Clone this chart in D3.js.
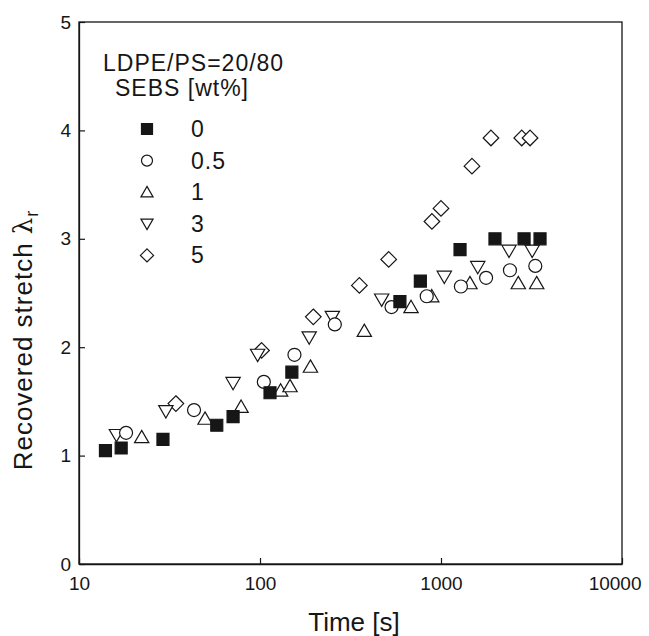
<!DOCTYPE html>
<html><head><meta charset="utf-8">
<script src="https://cdn.jsdelivr.net/npm/d3@7"></script>
<style>body{margin:0;background:#fff;} svg{display:block;}</style>
</head><body>
<svg id="chart" width="649" height="636"></svg>
<script>
const legendTitle = ["LDPE/PS=20/80", "SEBS [wt%]"];
const seriesNames = ["0", "0.5", "1", "3", "5"];
const seriesSymbols = ["square", "circle", "triangle", "triangleDown", "diamond"];
const xTicks = [10, 100, 1000, 10000];
const yTicks = [0, 1, 2, 3, 4, 5];

const s0 = [[14.0,1.045],[17.1,1.07],[29.1,1.15],[57.7,1.28],[71,1.36],[113.6,1.58],[150,1.77],[593,2.42],[769,2.61],[1274,2.90],[1987,3.00],[2877,3.00],[3525,3.00]];
const s05 = [[18.2,1.21],[43.2,1.42],[105,1.68],[155,1.93],[259,2.21],[533,2.37],[834,2.47],[1288,2.56],[1775,2.64],[2404,2.71],[3319,2.75]];
const s1 = [[22.2,1.17],[49.7,1.34],[78.6,1.45],[130,1.60],[146.5,1.64],[190,1.82],[377,2.15],[683,2.37],[889,2.47],[1445,2.59],[2673,2.59],[3378,2.59]];
const s3 = [[16.1,1.19],[30.2,1.41],[71,1.67],[97,1.93],[187,2.09],[251,2.28],[470,2.44],[1043,2.65],[1596,2.74],[2376,2.89],[3190,2.89]];
const s5 = [[34.3,1.48],[102,1.97],[197,2.28],[354,2.57],[514,2.81],[891,3.16],[1000,3.28],[1483,3.67],[1888,3.93],[2793,3.93],[3105,3.93]];
const allSeries = [s0, s05, s1, s3, s5];

const svg = d3.select("#chart");
const L = 79, R = 622, T = 22, B = 564;
const x = d3.scaleLog().domain([10, 10000]).range([L, R]);
const y = d3.scaleLinear().domain([0, 5]).range([B, T]);
const ink = "#161616";
const font = "Liberation Sans, Arial, sans-serif";

// frame
svg.append("rect").attr("x", L).attr("y", T).attr("width", R - L).attr("height", B - T)
  .attr("fill", "none").attr("stroke", ink).attr("stroke-width", 1.3);

// axes
const xAxis = d3.axisBottom(x).tickValues(xTicks).tickFormat(d3.format("d")).tickSizeInner(-6).tickSizeOuter(0).tickPadding(13);
const gx = svg.append("g").attr("transform", `translate(0,${B})`).call(xAxis);
gx.select(".domain").attr("stroke", ink).attr("stroke-width", 1.3);
gx.selectAll(".tick line").attr("stroke", ink).attr("stroke-width", 1.2);
gx.selectAll(".tick text").attr("font-family", font).attr("font-size", 19).attr("fill", ink);
gx.selectAll(".tick text").filter(d => d === 10000).attr("text-anchor", "end").attr("x", 19);

const yAxis = d3.axisLeft(y).tickValues(yTicks).tickFormat(d3.format("d")).tickSizeInner(-6).tickSizeOuter(0).tickPadding(8);
const gy = svg.append("g").attr("transform", `translate(${L},0)`).call(yAxis);
gy.select(".domain").attr("stroke", ink).attr("stroke-width", 1.3);
gy.selectAll(".tick line").attr("stroke", ink).attr("stroke-width", 1.2);
gy.selectAll(".tick text").attr("font-family", font).attr("font-size", 19).attr("fill", ink);

// axis titles
svg.append("text").attr("x", 354).attr("y", 631).attr("text-anchor", "middle")
  .attr("font-family", font).attr("font-size", 26).attr("fill", ink).text("Time [s]");
const yl = svg.append("text").attr("transform", `translate(32,340) rotate(-90)`)
  .attr("text-anchor", "middle").attr("font-family", font).attr("font-size", 26).attr("letter-spacing", 1).attr("fill", ink);
yl.append("tspan").text("Recovered stretch ");
yl.append("tspan").attr("font-family", "DejaVu Serif, serif").text("λ");
yl.append("tspan").attr("font-size", 18).attr("dy", 6).text("r");

// symbols
function symbolPath(kind, s) {
  const h = s / 2;
  switch (kind) {
    case "square": return `M${-h},${-h}H${h}V${h}H${-h}Z`;
    case "circle": return d3.symbol().type(d3.symbolCircle).size(Math.PI * h * h)();
    case "triangle": return `M0,${-h * 1.05}L${h * 1.1},${h * 0.85}L${-h * 1.1},${h * 0.85}Z`;
    case "triangleDown": return `M0,${h * 1.05}L${h * 1.1},${-h * 0.85}L${-h * 1.1},${-h * 0.85}Z`;
    case "diamond": return `M0,${-h * 1.2}L${h * 1.2},0L0,${h * 1.2}L${-h * 1.2},0Z`;
  }
}
function drawSym(g, kind, size) {
  return g.append("path").attr("d", symbolPath(kind, size))
    .attr("fill", kind === "square" ? ink : "#fff")
    .attr("stroke", ink).attr("stroke-width", 1.2);
}

const order = [4, 3, 2, 1, 0];
order.forEach(i => {
  const g = svg.append("g");
  allSeries[i].forEach(d => {
    const sg = g.append("g").attr("transform", `translate(${x(d[0])},${y(d[1])})`);
    drawSym(sg, seriesSymbols[i], i === 0 ? 12 : 13);
  });
});

// legend
svg.append("text").attr("x", 103).attr("y", 71).attr("font-family", font).attr("font-size", 23).attr("letter-spacing", 1).attr("fill", ink).text(legendTitle[0]);
svg.append("text").attr("x", 115).attr("y", 96).attr("font-family", font).attr("font-size", 23).attr("letter-spacing", 1).attr("fill", ink).text(legendTitle[1]);
seriesNames.forEach((n, i) => {
  const cy = 129 + i * 31.6;
  const sg = svg.append("g").attr("transform", `translate(147,${cy})`);
  drawSym(sg, seriesSymbols[i], 11);
  svg.append("text").attr("x", 191).attr("y", cy + 8).attr("font-family", font).attr("font-size", 23).attr("letter-spacing", 1).attr("fill", ink).text(n);
});
</script>
</body></html>
